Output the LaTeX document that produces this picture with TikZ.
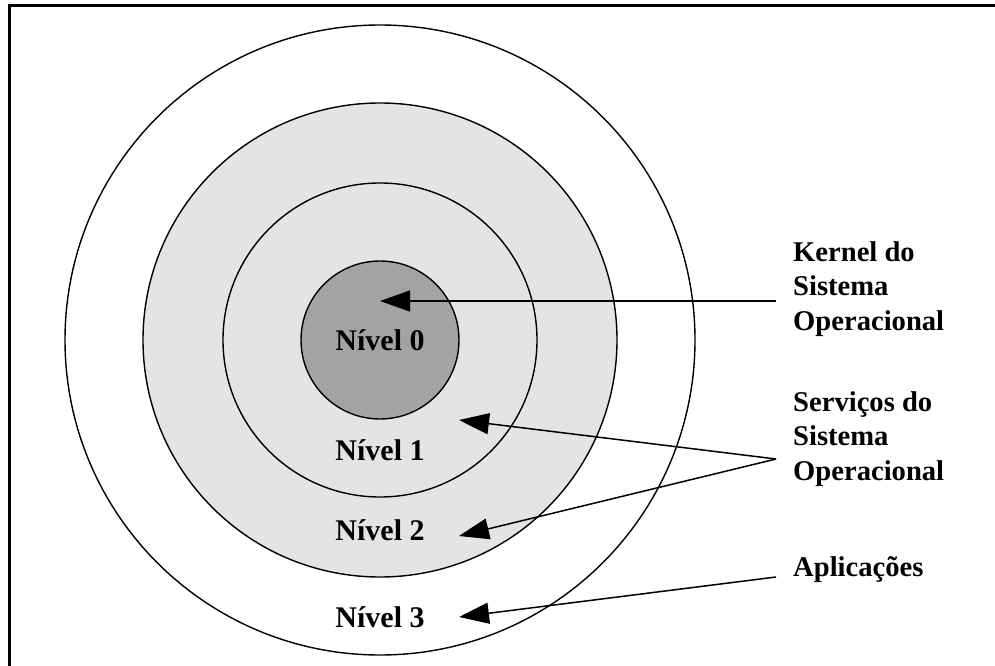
\documentclass[tikz,border=0pt]{standalone}
\usepackage{fontspec}
\setmainfont{Liberation Serif}
\usetikzlibrary{arrows.meta}
\definecolor{ringgray}{HTML}{E4E4E4}
\definecolor{coregray}{HTML}{A3A3A3}
\begin{document}
\begin{tikzpicture}[x=1pt,y=-1pt,
  ring/.style={draw=black, line width=1.4pt},
  lvl/.style={font=\bfseries\fontsize{30}{34}\selectfont, anchor=base, inner sep=0pt},
  side/.style={font=\bfseries\fontsize{28.6}{34.5}\selectfont, align=left, anchor=north west, inner sep=0pt},
  pointer/.style={line width=1.5pt, -{Triangle[length=30pt,width=21pt]}}]
  \useasboundingbox (0,0) rectangle (995,666);
  \fill[white] (0,0) rectangle (995,666);
  % frame
  \draw[line width=3pt] (9,666) -- (9,6) -- (995,6);

  % concentric levels
  \draw[ring, fill=white]     (380,340) circle[radius=315];
  \draw[ring, fill=ringgray]  (380,340) circle[radius=237];
  \draw[ring, fill=ringgray]  (380,340) circle[radius=157];
  \draw[ring, fill=coregray]  (380,340) circle[radius=79];

  % level labels
  \node[lvl] (n0) at (380,350) {Nível 0};
  \node[lvl] (n1) at (380,460) {Nível 1};
  \node[lvl] (n2) at (380,540) {Nível 2};
  \node[lvl] (n3) at (380,627) {Nível 3};

  % side captions
  \node[side] (kern) at (793,241) {Kernel do\\Sistema\\Operacional};
  \node[side] (serv) at (793,391) {Serviços do\\Sistema\\Operacional};
  \node[side] (apps) at (793,556) {Aplicações};

  % pointer ends
  \coordinate (ks) at (776,301);
  \coordinate (kt) at (380,301);
  \coordinate (ss) at (776,459);
  \coordinate (st1) at (459,420);
  \coordinate (st2) at (459,536);
  \coordinate (as) at (776,577);
  \coordinate (at) at (459,617);

  \draw[pointer] (ks) -- (kt);
  \draw[pointer] (ss) -- (st1);
  \draw[pointer] (ss) -- (st2);
  \draw[pointer] (as) -- (at);
\end{tikzpicture}
\end{document}
